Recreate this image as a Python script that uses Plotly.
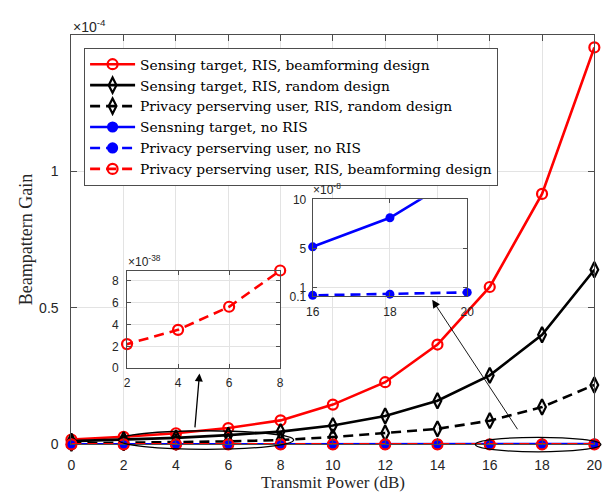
import plotly.graph_objects as go

# ---------------- data ----------------
power_db = [0, 2, 4, 6, 8, 10, 12, 14, 16, 18, 20]
# main-axis series, in units of 1e-4
sense_ris_bf = [0.018, 0.028, 0.041, 0.060, 0.088, 0.146, 0.228, 0.366, 0.577, 0.918, 1.455]
sense_ris_rand = [0.012, 0.017, 0.024, 0.034, 0.047, 0.069, 0.104, 0.160, 0.253, 0.402, 0.640]
priv_ris_rand = [0.004, 0.006, 0.008, 0.011, 0.016, 0.027, 0.042, 0.057, 0.087, 0.137, 0.218]
# no-RIS series, in units of 1e-8
sense_no_ris = [0.13, 0.21, 0.33, 0.52, 0.83, 1.3, 2.1, 3.3, 5.15, 8.12, 12.9]
priv_no_ris = [0.02, 0.03, 0.04, 0.05, 0.07, 0.09, 0.11, 0.15, 0.20, 0.32, 0.50]
# privacy user with RIS beamforming, in units of 1e-38
priv_ris_bf = [1.4, 2.2, 3.5, 5.6, 8.9, 14, 22, 35, 56, 89, 141]

names = ["Sensing target, RIS, beamforming design",
         "Sensing target, RIS, random design",
         "Privacy perserving user, RIS, random design",
         "Sensning target, no RIS",
         "Privacy perserving user, no RIS",
         "Privacy perserving user, RIS, beamforming design"]

main_xticks = [0, 2, 4, 6, 8, 10, 12, 14, 16, 18, 20]
main_yticks = [0, 0.5, 1]
in1_xticks = [2, 4, 6, 8]
in1_yticks = [0, 2, 4, 6, 8]
in2_xticks = [16, 18, 20]
in2_yticks = [0.1, 1, 5, 10]

# ---------------- layout geometry ----------------
W, H = 616, 498
def px_x(p): return p / W
def px_y(p): return 1 - p / H

main_xd = [px_x(66), px_x(602)]
main_yd = [px_y(451), px_y(29)]
main_xr = [0, 20]
main_yr = [0, 1.5]
in1_xd = [px_x(123), px_x(280)]
in1_yd = [px_y(372.5), px_y(271.7)]
in1_xr = [2, 8]
in1_yr = [0, 8.9]
in2_xd = [px_x(313.3), px_x(471.7)]
in2_yd = [px_y(298.3), px_y(198.3)]
in2_xr = [16, 20]
in2_yr = [0.1, 10]

RED = "#ff0000"
BLK = "#000000"
BLU = "#0000ff"
LW = 2.6
DASH = "10px,6px"
SERIF = "DejaVu Serif, Liberation Serif, serif"

fig = go.Figure()

to_main_from_e8 = [v * 1e-4 for v in sense_no_ris]
to_main_from_e8b = [v * 1e-4 for v in priv_no_ris]
to_main_from_e38 = [v * 1e-34 for v in priv_ris_bf]

main_series = [
    (sense_ris_bf, RED, "solid", "circle-open", 10, names[0]),
    (sense_ris_rand, BLK, "solid", "diamond-tall-open", 11, names[1]),
    (priv_ris_rand, BLK, DASH, "diamond-tall-open", 11, names[2]),
    (to_main_from_e8, BLU, "solid", "circle", 9, names[3]),
    (to_main_from_e8b, BLU, DASH, "circle", 9, names[4]),
    (to_main_from_e38, RED, DASH, "circle-open", 10, names[5]),
]
for ys, col, dash, sym, sz, nm in main_series:
    fig.add_trace(go.Scatter(
        x=power_db, y=ys, name=nm, mode="lines+markers",
        line=dict(color=col, width=LW, dash=dash),
        marker=dict(symbol=sym, size=sz, color=col, line=dict(color=col, width=2.2)),
        cliponaxis=False, xaxis="x", yaxis="y"))

def inrange(xs, ys, xr, yr):
    px, py = [], []
    for a, b in zip(xs, ys):
        if xr[0] <= a <= xr[1] and yr[0] <= b <= yr[1]:
            px.append(a); py.append(b)
    return px, py

# inset 1: privacy user, RIS, beamforming (x1e-38)
fig.add_trace(go.Scatter(x=power_db, y=priv_ris_bf, mode="lines", showlegend=False,
                         line=dict(color=RED, width=LW, dash=DASH), xaxis="x2", yaxis="y2"))
mx, my = inrange(power_db, priv_ris_bf, in1_xr, in1_yr)
fig.add_trace(go.Scatter(x=mx, y=my, mode="markers", showlegend=False, cliponaxis=False,
                         marker=dict(symbol="circle-open", size=10, color=RED, line=dict(color=RED, width=2.2)),
                         xaxis="x2", yaxis="y2"))

# inset 2: no-RIS series (x1e-8)
for ys, dash in [(sense_no_ris, "solid"), (priv_no_ris, DASH)]:
    fig.add_trace(go.Scatter(x=power_db, y=ys, mode="lines", showlegend=False,
                             line=dict(color=BLU, width=LW, dash=dash), xaxis="x3", yaxis="y3"))
    mx, my = inrange(power_db, ys, in2_xr, in2_yr)
    fig.add_trace(go.Scatter(x=mx, y=my, mode="markers", showlegend=False, cliponaxis=False,
                             marker=dict(symbol="circle", size=9, color=BLU),
                             xaxis="x3", yaxis="y3"))

AX = "#4d4d4d"
GRID = "#e3e3e3"
TICKC = "#262626"

def axis(domain, rng, tickvals, anchor, size, ticklen, standoff):
    return dict(domain=domain, range=rng, tickvals=tickvals, anchor=anchor,
                showline=True, mirror="ticks", linecolor=AX, linewidth=1,
                ticks="inside", ticklen=ticklen, tickcolor=AX, tickwidth=1,
                showgrid=True, gridcolor=GRID, gridwidth=1, zeroline=False,
                ticklabelstandoff=standoff,
                tickfont=dict(family="Liberation Sans, Arial", size=size, color=TICKC),
                fixedrange=True)

fig.update_layout(
    width=W, height=H, margin=dict(l=0, r=0, t=0, b=0),
    paper_bgcolor="white", plot_bgcolor="white",
    xaxis=axis(main_xd, main_xr, main_xticks, "y", 14, 6, 8),
    yaxis=axis(main_yd, main_yr, main_yticks, "x", 14, 6, 9),
    xaxis2=axis(in1_xd, in1_xr, in1_xticks, "y2", 12, 4, 3),
    yaxis2=axis(in1_yd, in1_yr, in1_yticks, "x2", 12, 4, 5),
    xaxis3=axis(in2_xd, in2_xr, in2_xticks, "y3", 12, 4, 4),
    yaxis3=axis(in2_yd, in2_yr, in2_yticks, "x3", 12, 4, 3),
    showlegend=True,
    legend=dict(x=px_x(79), y=px_y(42), xanchor="left", yanchor="top",
                bgcolor="white", bordercolor=AX, borderwidth=1,
                font=dict(family=SERIF, size=13.8, color="#000"),
                itemwidth=45, tracegroupgap=0),
)

# ellipses (defined in main data coordinates, converted to paper)
def dx(v): return main_xd[0] + (v - main_xr[0]) / (main_xr[1] - main_xr[0]) * (main_xd[1] - main_xd[0])
def dy(v): return main_yd[0] + (v - main_yr[0]) / (main_yr[1] - main_yr[0]) * (main_yd[1] - main_yd[0])

ellipses = [((1.8, 8.5), (-0.018, 0.05)), ((15.45, 20.25), (-0.027, 0.026))]
for (x0, x1), (y0, y1) in ellipses:
    fig.add_shape(type="circle", xref="paper", yref="paper",
                  x0=dx(x0), x1=dx(x1), y0=dy(y0), y1=dy(y1),
                  line=dict(color="black", width=1.3), layer="above")

# arrows (head, tail) in main data coordinates
arrows = [((4.9, 0.26), (4.72, 0.057), 1.3), ((13.8, 0.53), (17.1, 0.05), 0.9)]
for (hx, hy), (tx, ty), w in arrows:
    fig.add_annotation(x=hx, y=hy, ax=tx, ay=ty, xref="x", yref="y", axref="x", ayref="y",
                       showarrow=True, arrowhead=2, arrowsize=3.2 / (w * 2), arrowwidth=w,
                       arrowcolor="black", text="")

# exponent labels
exps = [("×10<sup>-4</sup>", 66, 20, 14), ("×10<sup>-38</sup>", 122, 262, 12), ("×10<sup>-8</sup>", 312, 188, 12)]
for t, px, py, s in exps:
    fig.add_annotation(x=px_x(px), y=px_y(py), xref="paper", yref="paper", text=t, showarrow=False,
                       xanchor="left", yanchor="middle",
                       font=dict(family="Liberation Sans, Arial", size=s, color=TICKC))

# axis titles
fig.add_annotation(x=px_x(334), y=px_y(490), xref="paper", yref="paper", text="Transmit Power (dB)",
                   showarrow=False, xanchor="center", yanchor="middle", borderpad=0,
                   font=dict(family="Liberation Serif, Times New Roman, serif", size=17, color="#262626"))
fig.add_annotation(x=px_x(19), y=px_y(240), xref="paper", yref="paper", text="Beampattern Gain",
                   showarrow=False, xanchor="center", yanchor="middle", textangle=-90,
                   font=dict(family="Liberation Serif, Times New Roman, serif", size=18, color="#262626"))

fig.write_html("out.html", config={"displayModeBar": False},
               post_script="document.body.style.margin='0';")
